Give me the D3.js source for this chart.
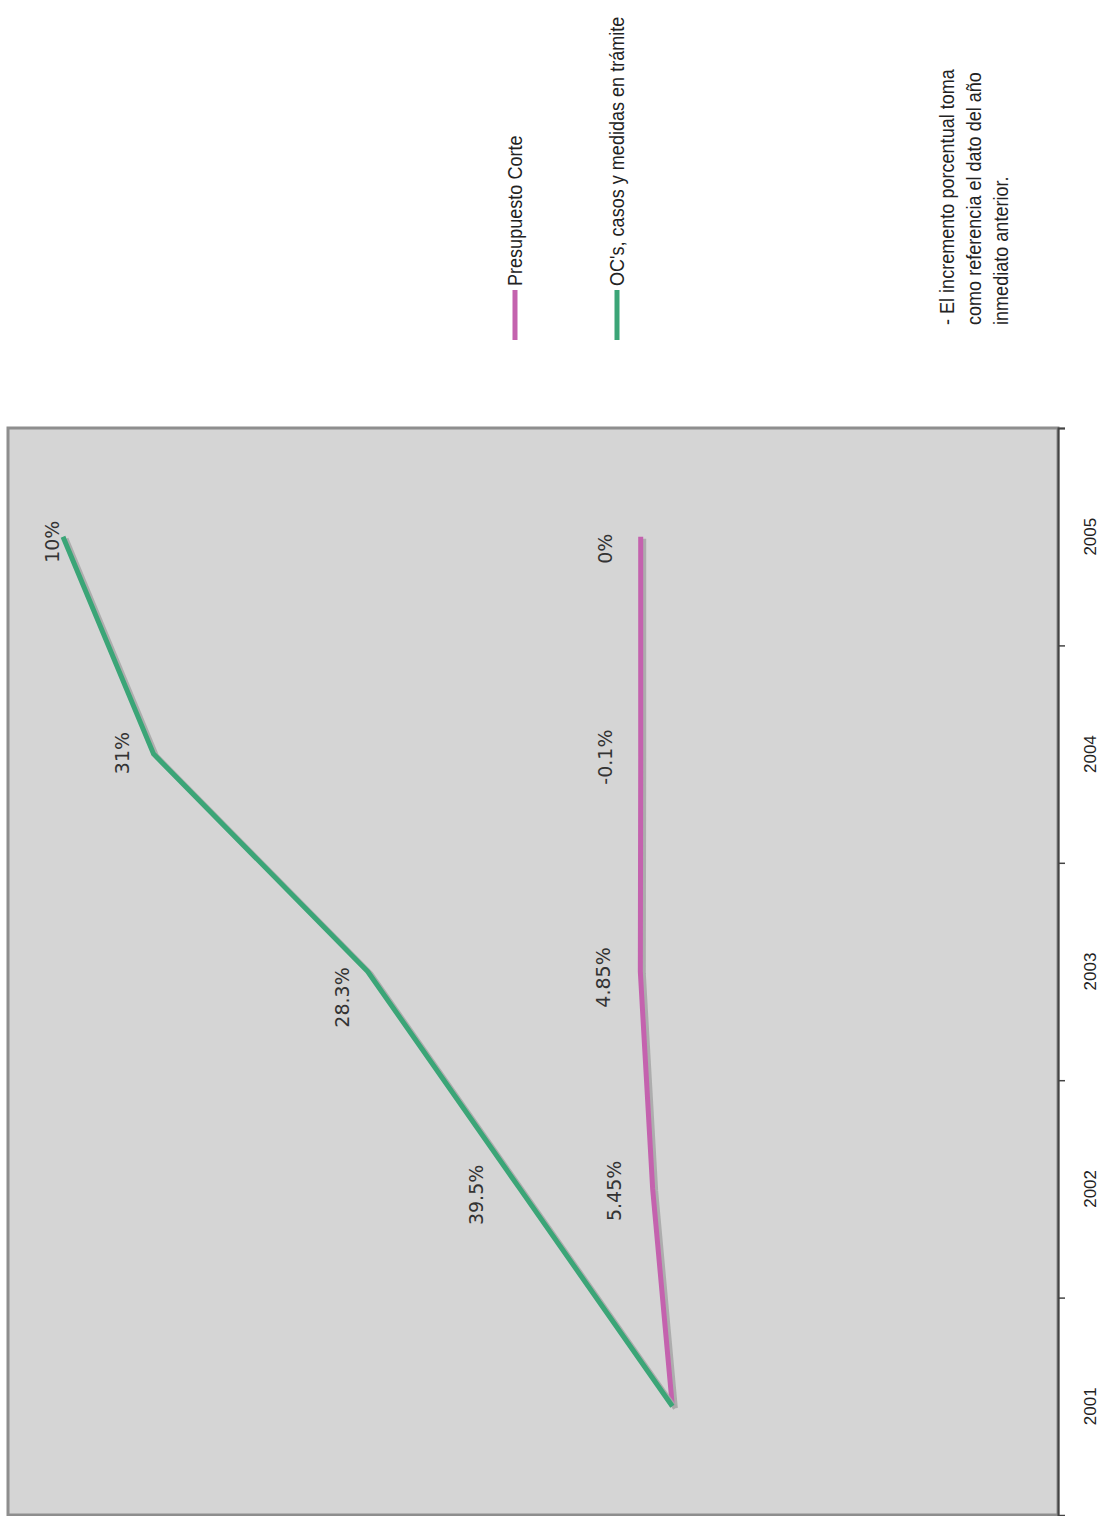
<!DOCTYPE html>
<html>
<head>
<meta charset="utf-8">
<script src="https://cdn.jsdelivr.net/npm/d3@7"></script>
<style>
  html, body { margin: 0; padding: 0; background: #fff; }
  svg { display: block; }
</style>
</head>
<body>
<svg id="chart" width="1106" height="1516"></svg>
<script>
// ---------- data ----------
const years = ["2001", "2002", "2003", "2004", "2005"];
// index values (2001 = 100)
const presupuestoValues = [100, 105.1, 108.3, 108.2, 108.2];
const ocValues = [100, 139.5, 179, 234.5, 258];
const presupuestoLabels = ["", "5.45%", "4.85%", "-0.1%", "0%"];
const ocLabels = ["", "39.5%", "28.3%", "31%", "10%"];
const seriesNames = ["Presupuesto Corte", "OC's, casos y medidas en trámite"];
const noteLines = ["- El incremento porcentual toma", "como referencia el dato del año", "inmediato anterior."];

// ---------- layout ----------
const svg = d3.select("#chart");
const plot = { left: 8, right: 1058, top: 428, bottom: 1515 };
const colors = { presupuesto: "#c462ae", oc: "#3ba577" };

const yBand = d3.scaleBand().domain(years).range([plot.bottom, plot.top]);
const yPoint = d => yBand(d) + yBand.bandwidth() / 2;
const xScale = d3.scaleLinear().domain([0, 272]).range([plot.right, plot.left + 1]);

// plot background
svg.append("rect")
  .attr("x", plot.left).attr("y", plot.top)
  .attr("width", plot.right - plot.left).attr("height", plot.bottom - plot.top)
  .attr("fill", "#d5d5d5").attr("stroke", "#8e8e8e").attr("stroke-width", 3);

// axis (right side, categories run bottom -> top)
const axisG = svg.append("g").attr("transform", `translate(${plot.right},0)`);
const boundaries = years.map(y => yBand(y)).concat([yBand(years[0]) + yBand.bandwidth()]);
const tickScale = d3.scaleIdentity().domain([plot.top, plot.bottom + 1]);
axisG.call(d3.axisRight(tickScale).tickValues(boundaries).tickSize(7).tickFormat(""));
axisG.select(".domain").attr("stroke", "#444").attr("stroke-width", 2);
axisG.selectAll(".tick line").attr("stroke", "#444").attr("stroke-width", 1.5);

axisG.selectAll(".yearLabel").data(years).enter().append("text")
  .attr("transform", d => `translate(32,${yPoint(d)}) rotate(-90)`)
  .attr("text-anchor", "middle").attr("dy", "0.35em")
  .attr("font-family", "Liberation Sans, Arial, sans-serif").attr("font-size", 17)
  .attr("fill", "#222").text(d => d);

// lines
const lineGen = d3.line().x(d => xScale(d.v)).y(d => yPoint(d.y));
const seriesList = [
  { key: "presupuesto", values: presupuestoValues, labels: presupuestoLabels, color: colors.presupuesto },
  { key: "oc", values: ocValues, labels: ocLabels, color: colors.oc }
];

seriesList.forEach(s => {
  const pts = years.map((y, i) => ({ y, v: s.values[i] }));
  svg.append("path").datum(pts).attr("d", lineGen)
    .attr("transform", "translate(3,2)")
    .attr("fill", "none").attr("stroke", "#a9a9a9").attr("stroke-width", 5)
    .attr("stroke-linejoin", "round").attr("opacity", 0.9);
  svg.append("path").datum(pts).attr("d", lineGen)
    .attr("fill", "none").attr("stroke", s.color).attr("stroke-width", 5)
    .attr("stroke-linejoin", "round");
});

// data labels: shift (dx, dy) from each point
const labelShift = {
  presupuesto: [[0, 0], [-38, 2], [-37, 6], [-35, 3], [-35, 12]],
  oc: [[0, 0], [-44, 6], [-25, 26], [-31, -1], [-11, 5]]
};
seriesList.forEach(s => {
  svg.selectAll(".lbl-" + s.key)
    .data(years.map((y, i) => ({ y, v: s.values[i], t: s.labels[i], sh: labelShift[s.key][i] })).filter(d => d.t))
    .enter().append("text")
    .attr("transform", d => `translate(${xScale(d.v) + d.sh[0]},${yPoint(d.y) + d.sh[1]}) rotate(-90)`)
    .attr("text-anchor", "middle").attr("dy", "0.35em")
    .attr("font-family", "DejaVu Sans, sans-serif").attr("font-size", 19)
    .attr("fill", "#333").text(d => d.t);
});

// legend (condensed sans)
const legendX = [515, 617];
const legendFont = "Liberation Sans, Arial, sans-serif";
const narrow = 0.86;
seriesList.forEach((s, i) => {
  svg.append("rect").attr("x", legendX[i] - 2.5).attr("y", 290).attr("width", 5).attr("height", 50)
    .attr("fill", s.color);
  svg.append("text")
    .attr("transform", `translate(${legendX[i]},286) rotate(-90) scale(${narrow},1)`)
    .attr("text-anchor", "start").attr("dy", "0.35em")
    .attr("font-family", legendFont).attr("font-size", 21)
    .attr("fill", "#222").text(seriesNames[i]);
});

// note
noteLines.forEach((t, i) => {
  svg.append("text")
    .attr("transform", `translate(${947 + i * 27},325) rotate(-90) scale(${narrow},1)`)
    .attr("text-anchor", "start").attr("dy", "0.35em")
    .attr("font-family", legendFont).attr("font-size", 21)
    .attr("fill", "#222").text(t);
});
</script>
</body>
</html>
